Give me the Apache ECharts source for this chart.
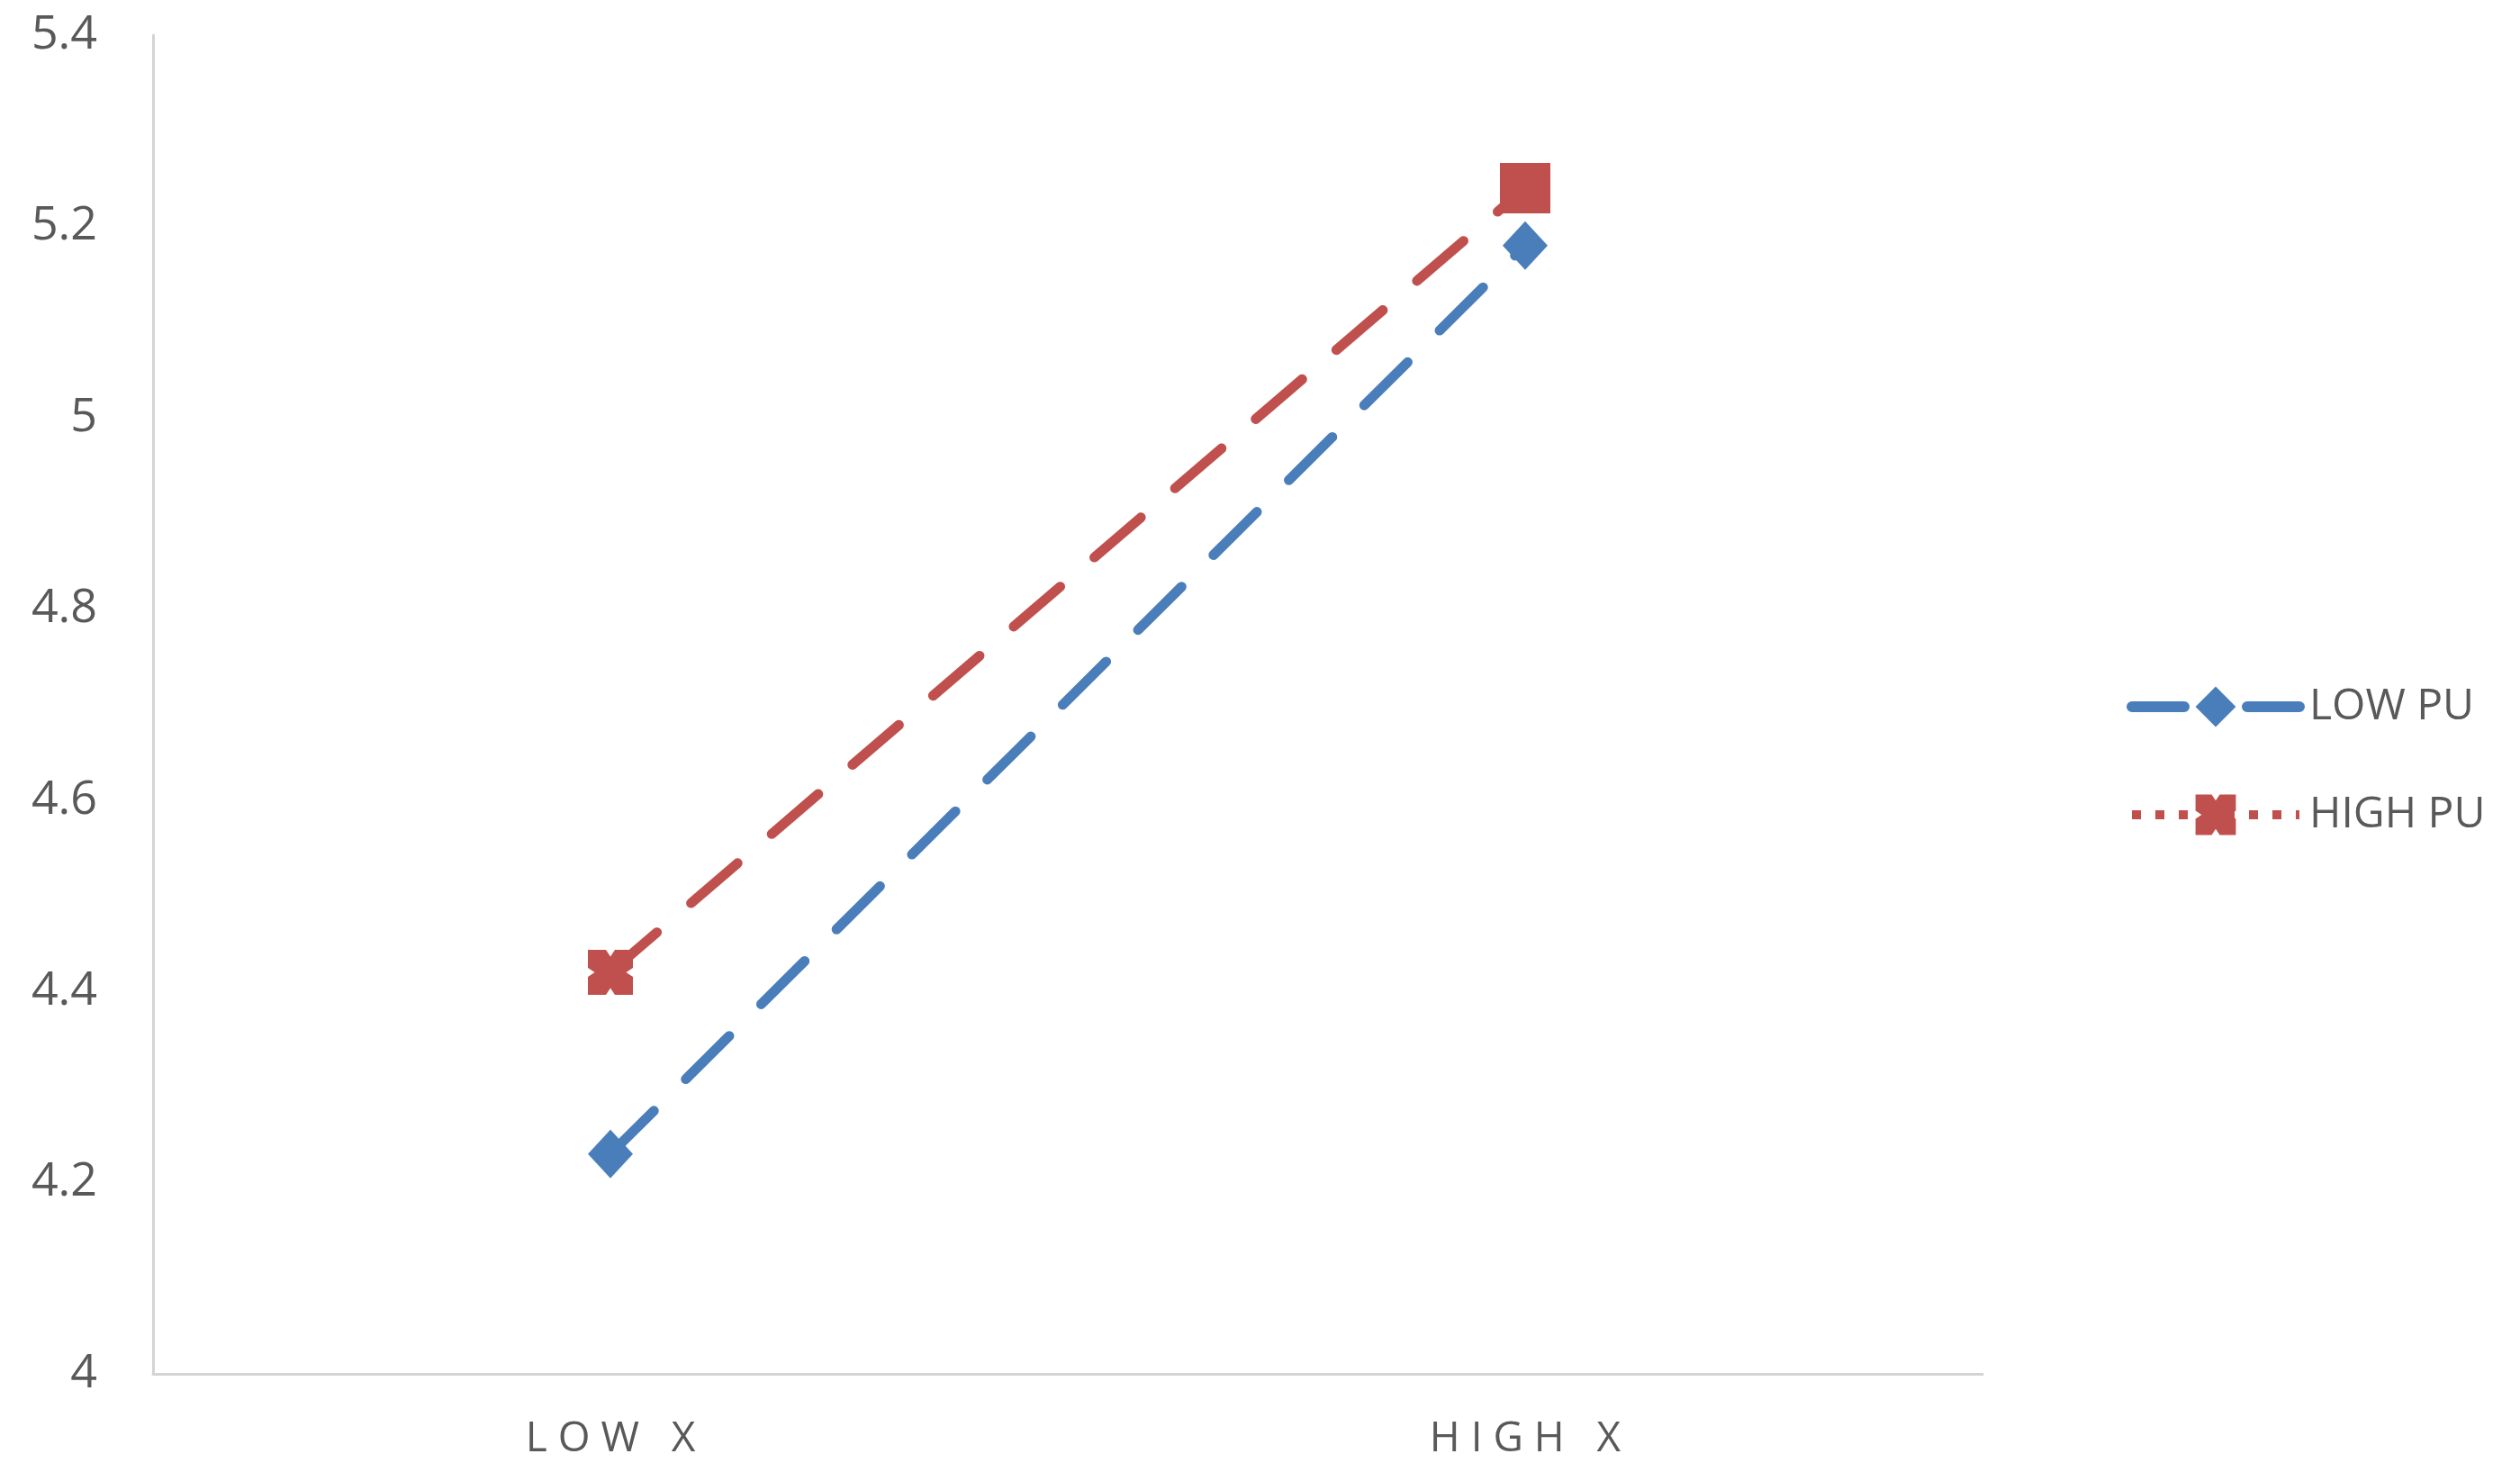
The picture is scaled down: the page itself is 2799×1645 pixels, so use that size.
<!DOCTYPE html>
<html lang="en">
<head>
    <meta charset="UTF-8">
    <title>PU interaction</title>
    <script type="text/javascript" src="https://cdn.jsdelivr.net/npm/echarts@6/dist/echarts.min.js"></script>
    <style>
        html, body { margin: 0; padding: 0; background: #fff; }
    </style>
</head>
<body>
  <div id="main" style="width: 2799px;height: 1645px;"></div>
</body>
<script>
    // data
    var categories = ['LOW X', 'HIGH X'];
    var lowPU = [4.23, 5.18];
    var highPU = [4.42, 5.24];
    var yTicks = [4, 4.2, 4.4, 4.6, 4.8, 5, 5.2, 5.4];

    var blue = '#4a7ebb';
    var red = '#c0504d';
    var crossPath = 'path://M0,0 L4,0 L5,1.5 L6,0 L10,0 L10,4 L8.5,5 L10,6 L10,10 L6,10 L5,8.5 L4,10 L0,10 L0,6 L1.5,5 L0,4 Z';

    var myChart = echarts.init(document.getElementById('main'));

    var option = {
        backgroundColor: '#fff',
        animation: false,
        grid: {
            left: 170,
            right: 597,
            top: 39,
            bottom: 119
        },
        legend: {
            orient: 'vertical',
            left: 2357,
            top: 756,
            itemWidth: 186,
            itemHeight: 56,
            itemGap: 72,
            textStyle: {
                fontFamily: 'Open Sans',
                fontSize: 48,
                color: '#595959',
                padding: [0, 0, 0, 6]
            },
            data: [
                { name: 'LOW PU', lineStyle: { type: [58, 70], width: 12, cap: 'round' } },
                { name: 'HIGH PU', lineStyle: { type: [10, 16], width: 10, cap: 'butt' } }
            ]
        },
        xAxis: {
            type: 'category',
            data: categories,
            boundaryGap: true,
            axisLine: { lineStyle: { color: '#d4d4d4', width: 3 } },
            axisTick: { show: false },
            axisLabel: {
                margin: 50,
                fontFamily: 'Open Sans',
                fontSize: 46,
                color: '#595959',
                formatter: function (v) { return v.split('').join(' '); }
            }
        },
        yAxis: {
            type: 'value',
            min: 4,
            max: 5.4,
            interval: 0.2,
            axisLine: { show: true, lineStyle: { color: '#d4d4d4', width: 3 } },
            axisTick: { show: false },
            splitLine: { show: false },
            axisLabel: {
                margin: 62,
                fontFamily: 'Open Sans',
                fontSize: 52,
                color: '#595959',
                formatter: function (v) {
                    var t = yTicks.filter(function (x) { return Math.abs(x - v) < 1e-6; });
                    return t.length ? String(t[0]) : '';
                }
            }
        },
        series: [{
            name: 'LOW PU',
            type: 'line',
            data: lowPU,
            symbol: 'diamond',
            symbolSize: [50, 54],
            itemStyle: { color: blue },
            lineStyle: { color: blue, width: 11, type: [68, 50], cap: 'round' }
        }, {
            name: 'HIGH PU',
            type: 'line',
            symbol: crossPath,
            symbolSize: 50,
            data: [
                { value: highPU[0] },
                { value: highPU[1], symbol: 'rect', symbolSize: 56 }
            ],
            itemStyle: { color: red },
            lineStyle: { color: red, width: 11, type: [68, 50], cap: 'round' }
        }]
    };

    myChart.setOption(option);
</script>
</html>
